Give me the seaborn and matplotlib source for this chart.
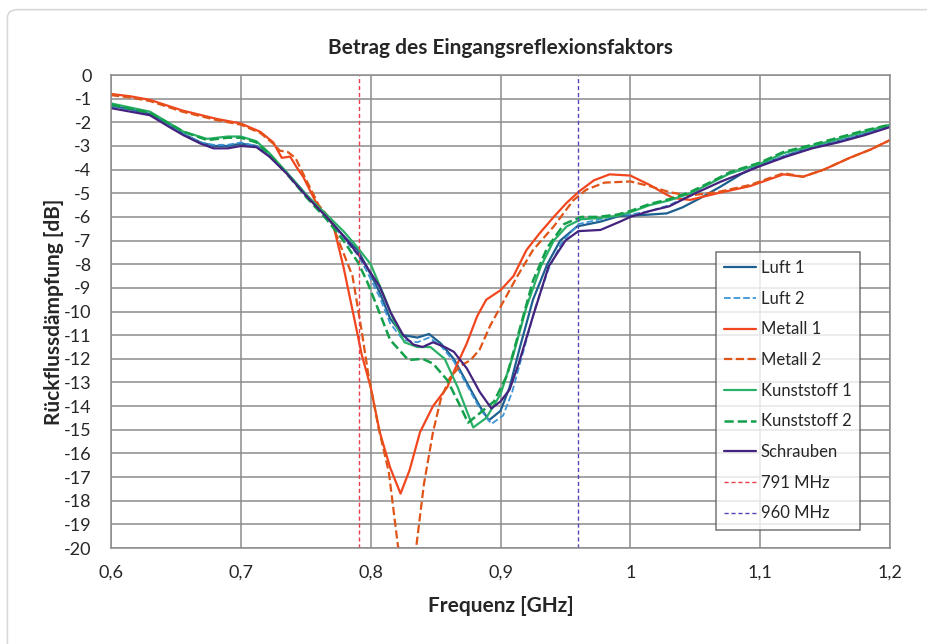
import numpy as np
import matplotlib
matplotlib.use("Agg")
import matplotlib.pyplot as plt
from matplotlib.patches import FancyBboxPatch
import seaborn as sns

# --- data (frequency in GHz, return loss in dB) ---
luft1_f = [0.6, 0.615, 0.63, 0.645, 0.656, 0.669, 0.679, 0.69, 0.70, 0.712, 0.722, 0.735, 0.751, 0.766, 0.779, 0.79,
           0.797, 0.807, 0.815, 0.825, 0.836, 0.845, 0.854, 0.864, 0.874, 0.884, 0.891, 0.90, 0.907, 0.915, 0.925,
           0.936, 0.946, 0.959, 0.977, 0.992, 1.0, 1.015, 1.028, 1.04, 1.054, 1.07, 1.085, 1.1, 1.12, 1.14, 1.16,
           1.18, 1.2]
luft1_db = [-1.3, -1.45, -1.65, -2.1, -2.5, -2.85, -3.0, -3.0, -2.9, -3.0, -3.4, -4.1, -5.1, -6.0, -6.8, -7.4,
            -8.1, -9.2, -10.3, -11.0, -11.1, -10.95, -11.35, -12.0, -13.0, -14.0, -14.6, -14.2, -13.2, -11.5, -9.5,
            -8.0, -7.0, -6.4, -6.2, -5.95, -5.95, -5.9, -5.85, -5.6, -5.2, -4.7, -4.2, -3.8, -3.4, -3.05, -2.8,
            -2.5, -2.15]

luft2_f = [0.6, 0.615, 0.63, 0.645, 0.656, 0.669, 0.679, 0.69, 0.70, 0.712, 0.722, 0.735, 0.751, 0.766, 0.779, 0.79,
           0.797, 0.807, 0.815, 0.825, 0.836, 0.845, 0.854, 0.864, 0.874, 0.884, 0.893, 0.902, 0.909, 0.917, 0.927,
           0.937, 0.947, 0.96, 0.977, 0.992, 1.0, 1.015, 1.03, 1.045, 1.06, 1.075, 1.09, 1.1, 1.12, 1.14, 1.16,
           1.18, 1.2]
luft2_db = [-1.35, -1.5, -1.7, -2.15, -2.5, -2.85, -2.95, -2.95, -2.85, -3.0, -3.4, -4.1, -5.1, -6.0, -6.9, -7.6,
            -8.3, -9.4, -10.5, -11.2, -11.3, -11.1, -11.45, -12.1, -13.1, -14.1, -14.75, -14.4, -13.4, -11.8, -9.8,
            -8.2, -7.1, -6.3, -6.1, -5.9, -5.9, -5.75, -5.5, -5.1, -4.6, -4.2, -3.95, -3.8, -3.4, -3.05, -2.8,
            -2.5, -2.15]

metall1_f = [0.6, 0.615, 0.63, 0.655, 0.681, 0.70, 0.715, 0.725, 0.7315, 0.738, 0.743, 0.748, 0.758, 0.766, 0.771,
             0.779, 0.787, 0.793, 0.80, 0.807, 0.815, 0.823, 0.83, 0.838, 0.848, 0.859, 0.866, 0.874, 0.882, 0.889,
             0.90, 0.91, 0.92, 0.93, 0.941, 0.951, 0.961, 0.972, 0.984, 1.0, 1.015, 1.026, 1.033, 1.046, 1.067,
             1.092, 1.118, 1.133, 1.149, 1.169, 1.185, 1.2]
metall1_db = [-0.8, -0.9, -1.05, -1.5, -1.85, -2.05, -2.4, -2.85, -3.5, -3.45, -3.9, -4.3, -5.4, -6.0, -6.3,
              -8.1, -10.2, -11.8, -13.2, -15.1, -16.6, -17.7, -16.7, -15.1, -14.0, -13.2, -12.3, -11.35, -10.2, -9.5,
              -9.1, -8.5, -7.4, -6.7, -6.0, -5.4, -4.9, -4.45, -4.2, -4.25, -4.65, -5.0, -5.2, -5.28, -5.0,
              -4.7, -4.2, -4.3, -4.0, -3.5, -3.15, -2.75]

metall2_f = [0.6, 0.615, 0.63, 0.655, 0.681, 0.70, 0.715, 0.725, 0.73, 0.736, 0.742, 0.75, 0.76, 0.769, 0.776,
             0.786, 0.793, 0.798, 0.806, 0.814, 0.821, 0.828, 0.835, 0.841, 0.848, 0.854, 0.861, 0.869, 0.877,
             0.884, 0.892, 0.90, 0.913, 0.925, 0.941, 0.956, 0.966, 0.98, 1.0, 1.015, 1.03, 1.045, 1.067, 1.092,
             1.118, 1.133, 1.149, 1.169, 1.185, 1.2]
metall2_db = [-0.85, -0.95, -1.1, -1.55, -1.9, -2.1, -2.45, -2.9, -3.2, -3.25, -3.5, -4.4, -5.5, -6.1, -7.1,
              -8.5, -10.8, -12.6, -14.9, -16.8, -19.9, -21.5, -20.0, -17.3, -15.1, -13.7, -12.8, -12.3, -12.05,
              -11.6, -10.6, -9.8, -8.5, -7.4, -6.4, -5.3, -4.85, -4.55, -4.5, -4.7, -4.95, -5.1, -4.95, -4.65,
              -4.15, -4.3, -4.0, -3.5, -3.15, -2.75]

kunst1_f = [0.6, 0.63, 0.656, 0.674, 0.69, 0.70, 0.712, 0.722, 0.735, 0.751, 0.766, 0.779, 0.79, 0.80, 0.81, 0.818,
            0.826, 0.836, 0.846, 0.857, 0.867, 0.874, 0.879, 0.889, 0.90, 0.91, 0.92, 0.931, 0.941, 0.951, 0.962,
            0.975, 0.99, 1.0, 1.015, 1.03, 1.046, 1.061, 1.077, 1.1, 1.118, 1.14, 1.16, 1.18, 1.2]
kunst1_db = [-1.2, -1.55, -2.4, -2.7, -2.6, -2.6, -2.8, -3.3, -4.1, -5.1, -5.9, -6.6, -7.3, -8.0, -9.3, -10.4,
             -11.3, -11.5, -11.5, -12.0, -13.2, -14.2, -14.9, -14.5, -13.5, -11.8, -9.8, -8.1, -7.0, -6.4, -6.1,
             -6.05, -5.95, -5.8, -5.5, -5.3, -5.0, -4.6, -4.15, -3.75, -3.3, -3.0, -2.7, -2.4, -2.1]

kunst2_f = [0.6, 0.63, 0.656, 0.674, 0.69, 0.70, 0.712, 0.722, 0.735, 0.751, 0.766, 0.779, 0.79, 0.797, 0.805,
            0.815, 0.829, 0.84, 0.848, 0.859, 0.869, 0.875, 0.884, 0.895, 0.905, 0.915, 0.925, 0.936, 0.949, 0.962,
            0.975, 0.99, 1.0, 1.015, 1.03, 1.046, 1.061, 1.077, 1.1, 1.118, 1.14, 1.16, 1.18, 1.2]
kunst2_db = [-1.25, -1.6, -2.4, -2.75, -2.65, -2.65, -2.85, -3.35, -4.15, -5.2, -6.1, -7.0, -7.9, -8.7, -9.8,
             -11.2, -12.05, -12.0, -12.2, -12.9, -14.0, -14.7, -14.3, -13.8, -12.7, -10.7, -8.7, -7.3, -6.3, -6.0,
             -6.0, -5.9, -5.75, -5.45, -5.25, -4.95, -4.55, -4.1, -3.7, -3.25, -2.95, -2.65, -2.35, -2.1]

schrauben_f = [0.6, 0.615, 0.63, 0.645, 0.656, 0.669, 0.679, 0.69, 0.70, 0.712, 0.722, 0.735, 0.751, 0.766, 0.779,
               0.792, 0.807, 0.815, 0.825, 0.833, 0.840, 0.848, 0.857, 0.864, 0.874, 0.884, 0.893, 0.900, 0.907,
               0.914, 0.925, 0.937, 0.95, 0.96, 0.977, 0.992, 1.0, 1.015, 1.03, 1.05, 1.07, 1.1, 1.12, 1.14, 1.16,
               1.18, 1.2]
schrauben_db = [-1.4, -1.55, -1.7, -2.2, -2.55, -2.9, -3.1, -3.1, -3.0, -3.05, -3.45, -4.15, -5.15, -6.0, -6.8,
                -7.7, -8.95, -10.0, -11.0, -11.4, -11.5, -11.3, -11.5, -11.7, -12.4, -13.4, -14.1, -13.8, -13.3,
                -12.2, -10.2, -8.1, -7.0, -6.6, -6.55, -6.2, -6.0, -5.75, -5.55, -5.0, -4.5, -3.85, -3.45, -3.1,
                -2.85, -2.55, -2.2]

marker_freqs = [0.791, 0.960]
marker_labels = ["791 MHz", "960 MHz"]

x_ticks = [0.6, 0.7, 0.8, 0.9, 1.0, 1.1, 1.2]
x_ticklabels = ["0,6", "0,7", "0,8", "0,9", "1", "1,1", "1,2"]
y_ticks = list(range(0, -21, -1))

series = [
    ("Luft 1", luft1_f, luft1_db, "#1d5f8f", "-", 1.6),
    ("Luft 2", luft2_f, luft2_db, "#3e95d6", "--", 1.3),
    ("Metall 1", metall1_f, metall1_db, "#f2461e", "-", 1.6),
    ("Metall 2", metall2_f, metall2_db, "#e05418", "--", 1.6),
    ("Kunststoff 1", kunst1_f, kunst1_db, "#2bb068", "-", 1.6),
    ("Kunststoff 2", kunst2_f, kunst2_db, "#14a04a", "--", 1.8),
    ("Schrauben", schrauben_f, schrauben_db, "#44237f", "-", 1.6),
]
marker_colors = ["#e8404f", "#5547b8"]

sns.set_style("white")
plt.rcParams['font.family'] = ['Lato', 'DejaVu Sans']

fig = plt.figure(figsize=(9.28, 6.44), dpi=100)
fig.patch.set_facecolor("white")
fig.patches.append(FancyBboxPatch((0.008, -0.05), 1.05, 1.035, boxstyle="round,pad=0,rounding_size=0.012",
                                  transform=fig.transFigure, facecolor="white", edgecolor="#d9d9d9",
                                  linewidth=1.2, zorder=-10))
ax = fig.add_axes([0.1196, 0.149, 0.8395, 0.7345])

for name, f, db, col, ls, lw in series:
    sns.lineplot(x=f, y=db, ax=ax, color=col, linestyle=ls, linewidth=lw, label=name,
                 estimator=None, sort=False)
for fm, lab, col in zip(marker_freqs, marker_labels, marker_colors):
    ax.axvline(fm, color=col, linestyle=(0, (3, 2)), linewidth=1.0, label=lab)

ax.set_xlim(0.6, 1.2)
ax.set_ylim(-20, 0)
ax.set_xticks(x_ticks)
ax.set_xticklabels(x_ticklabels, fontsize=13)
ax.set_yticks(y_ticks)
ax.set_yticklabels([str(v) for v in y_ticks], fontsize=13)
ax.tick_params(axis="x", length=0, pad=12)
ax.tick_params(axis="y", length=0, pad=14)
ax.grid(True, color="#8c8c8c", linewidth=1.1)
ax.set_axisbelow(True)
for sp in ax.spines.values():
    sp.set_color("#8c8c8c")
    sp.set_linewidth(1.1)

ax.set_title("Betrag des Eingangsreflexionsfaktors", fontsize=15, fontweight="bold", pad=15)
ax.set_xlabel("Frequenz [GHz]", fontsize=15, fontweight="bold", labelpad=11)
ax.set_ylabel("Rückflussdämpfung [dB]", fontsize=15, fontweight="bold", labelpad=0)

leg = ax.legend(loc="lower right", bbox_to_anchor=(0.972, 0.021), fontsize=12, frameon=True,
                fancybox=False, edgecolor="#555555", handlelength=1.9, labelspacing=0.88,
                borderpad=0.5, handletextpad=0.3)
leg.get_frame().set_linewidth(1.1)

fig.savefig("out.png", dpi=100)
